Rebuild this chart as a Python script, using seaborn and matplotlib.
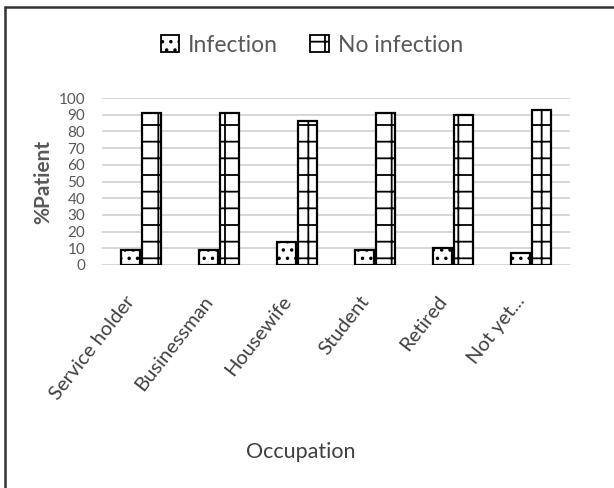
import matplotlib
matplotlib.use("Agg")
import matplotlib.pyplot as plt
import matplotlib.transforms as mtransforms
from matplotlib.lines import Line2D
from matplotlib.patches import Patch
import seaborn as sns
import pandas as pd

# Share of patients with / without infection by occupation (%)
occupations = ["Service holder", "Businessman", "Housewife", "Student", "Retired", "Not yet..."]
infection = [9, 9, 14, 9, 10, 7]
no_infection = [91, 91, 86, 91, 90, 93]
series = ["Infection", "No infection"]
y_ticks = [0, 10, 20, 30, 40, 50, 60, 70, 80, 90, 100]

df = pd.DataFrame({
    "Occupation": occupations * 2,
    "Status": [series[0]] * len(occupations) + [series[1]] * len(occupations),
    "Percent": infection + no_infection,
})

sns.set_theme(style="white")
plt.rcParams["font.family"] = ["Lato", "DejaVu Sans"]
plt.rcParams["hatch.linewidth"] = 1.3
plt.rcParams["hatch.color"] = "black"

text_grey = "#595959"
W, H = 614, 488
fig = plt.figure(figsize=(W / 100, H / 100), dpi=100)
fig.patch.set_facecolor("white")

ax = fig.add_axes([102 / W, 1 - 265 / H, 468 / W, (265 - 98) / H])
sns.barplot(data=df, x="Occupation", y="Percent", hue="Status",
            palette=["white", "white"], edgecolor="black", linewidth=1.6,
            width=0.54, gap=0.1, saturation=1, ax=ax, legend=False, zorder=3)

hatches = ["..", "+"]
for container, h in zip(ax.containers, hatches):
    for bar in container:
        bar.set_hatch(h)

ax.set_ylim(0, 100)
ax.set_yticks(y_ticks)
ax.set_yticklabels([str(t) for t in y_ticks], fontsize=11, color=text_grey)
ax.yaxis.grid(True, color="#d0d0d0", linewidth=1.2, zorder=0)
ax.set_axisbelow(True)
for s in ax.spines.values():
    s.set_visible(False)
ax.tick_params(axis="y", length=0, pad=12)
ax.tick_params(axis="x", length=0, pad=20)
ax.set_xlim(-0.5, len(occupations) - 0.5)

ax.set_xticks(range(len(occupations)))
ax.set_xticklabels(occupations, rotation=52, ha="right", rotation_mode="anchor",
                   fontsize=14.5, color="#404040")
shift = mtransforms.ScaledTranslation(-16 / 100, 0, fig.dpi_scale_trans)
for lbl in ax.get_xticklabels():
    lbl.set_transform(lbl.get_transform() + shift)
ax.set_xlabel("")
ax.set_ylabel("%Patient", fontsize=15, fontweight="bold", color=text_grey, labelpad=4)

fig.text(301 / W, 1 - 452 / H, "Occupation", ha="center", va="center",
         fontsize=15.5, color="#404040")

handles = [Patch(facecolor="white", edgecolor="black", hatch=h, linewidth=1.3) for h in hatches]
fig.legend(handles, series, loc="center", bbox_to_anchor=(312 / W, 1 - 45 / H),
           ncol=2, frameon=False, fontsize=16.5, handlelength=0.8, handleheight=0.8,
           handletextpad=0.4, columnspacing=1.4, labelcolor=text_grey)

# Frame lines along the top and left edges
fig.add_artist(Line2D([4.5 / W, 4.5 / W], [0, 1 - 6.5 / H], transform=fig.transFigure,
                      color="#333333", linewidth=1.8))
fig.add_artist(Line2D([4.5 / W, 1], [1 - 6.5 / H, 1 - 6.5 / H], transform=fig.transFigure,
                      color="#333333", linewidth=1.8))

fig.savefig("out.png", dpi=100, facecolor="white")
